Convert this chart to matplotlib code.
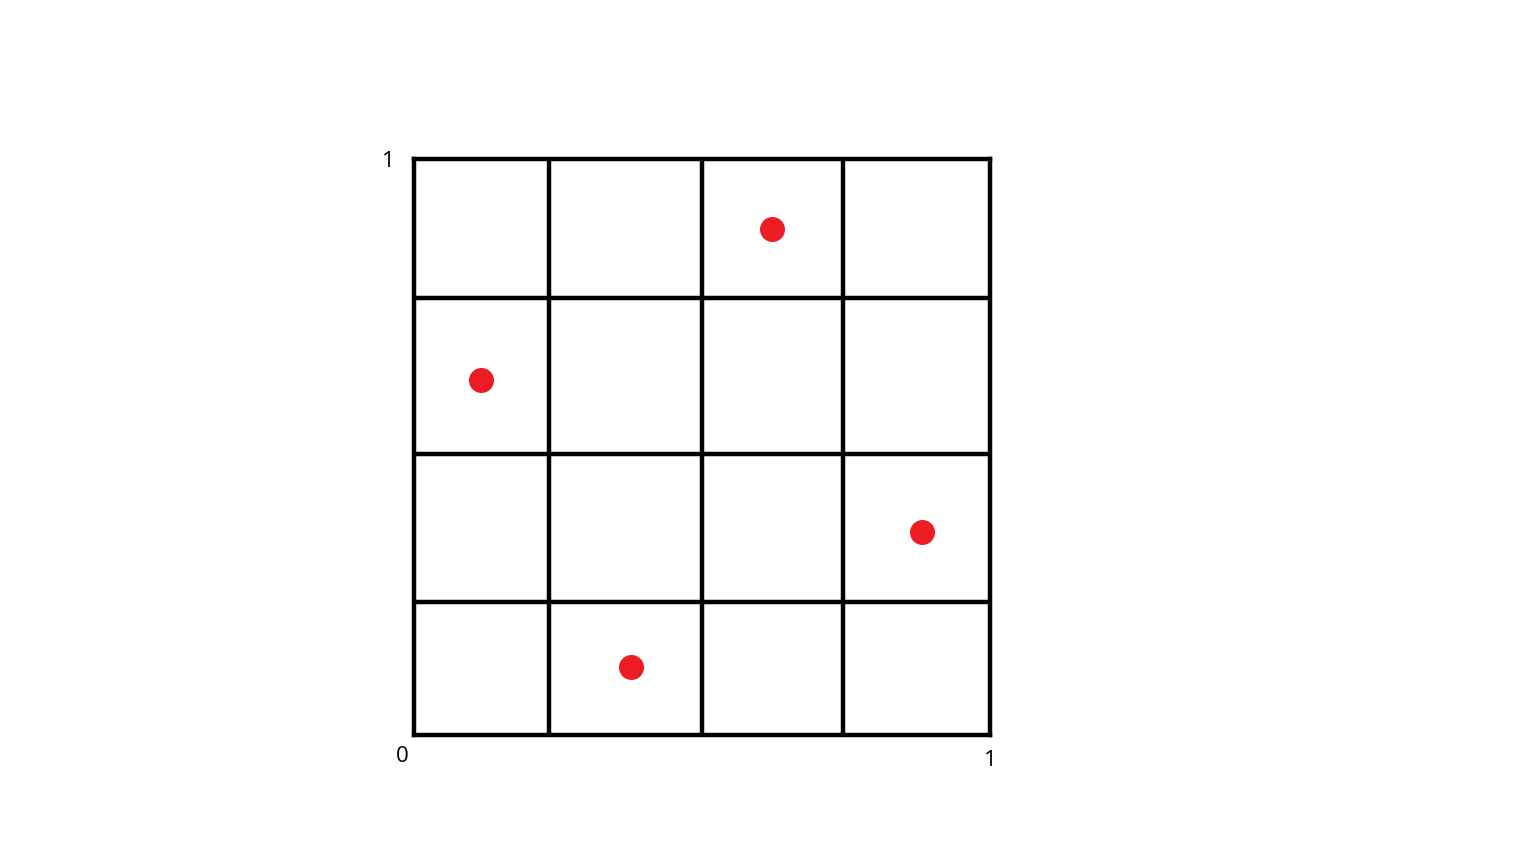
import matplotlib
matplotlib.use("Agg")
from matplotlib import pyplot as plt

# cell boundaries (unit square split unevenly)
x_cuts = [0.234, 0.5, 0.745]
y_cuts = [0.231, 0.488, 0.759]

# sample points
px = [0.622, 0.116, 0.882, 0.377]
py = [0.878, 0.616, 0.352, 0.118]

corner_labels = ["1", "0", "1"]

fig = plt.figure(figsize=(15.36, 8.64), dpi=100)
ax = fig.add_axes([414 / 1536, 129 / 864, 576 / 1536, 576 / 864])
ax.set_xlim(0, 1)
ax.set_ylim(0, 1)

lw = 3.2
ax.vlines(x_cuts, 0, 1, color="black", linewidth=lw)
ax.hlines(y_cuts, 0, 1, color="black", linewidth=lw)
for s in ax.spines.values():
    s.set_linewidth(lw)
    s.set_color("black")

ax.plot(px, py, "o", color="#ED1C24", markersize=18, markeredgewidth=0)

ax.set_xticks([])
ax.set_yticks([])

font = dict(fontsize=16, family="Open Sans", color="black", ha="center", va="center")
ax.text(-0.045, 0.996, corner_labels[0], **font)
ax.text(-0.021, -0.038, corner_labels[1], **font)
ax.text(1.001, -0.045, corner_labels[2], **font)

fig.savefig("out.png", dpi=100)
